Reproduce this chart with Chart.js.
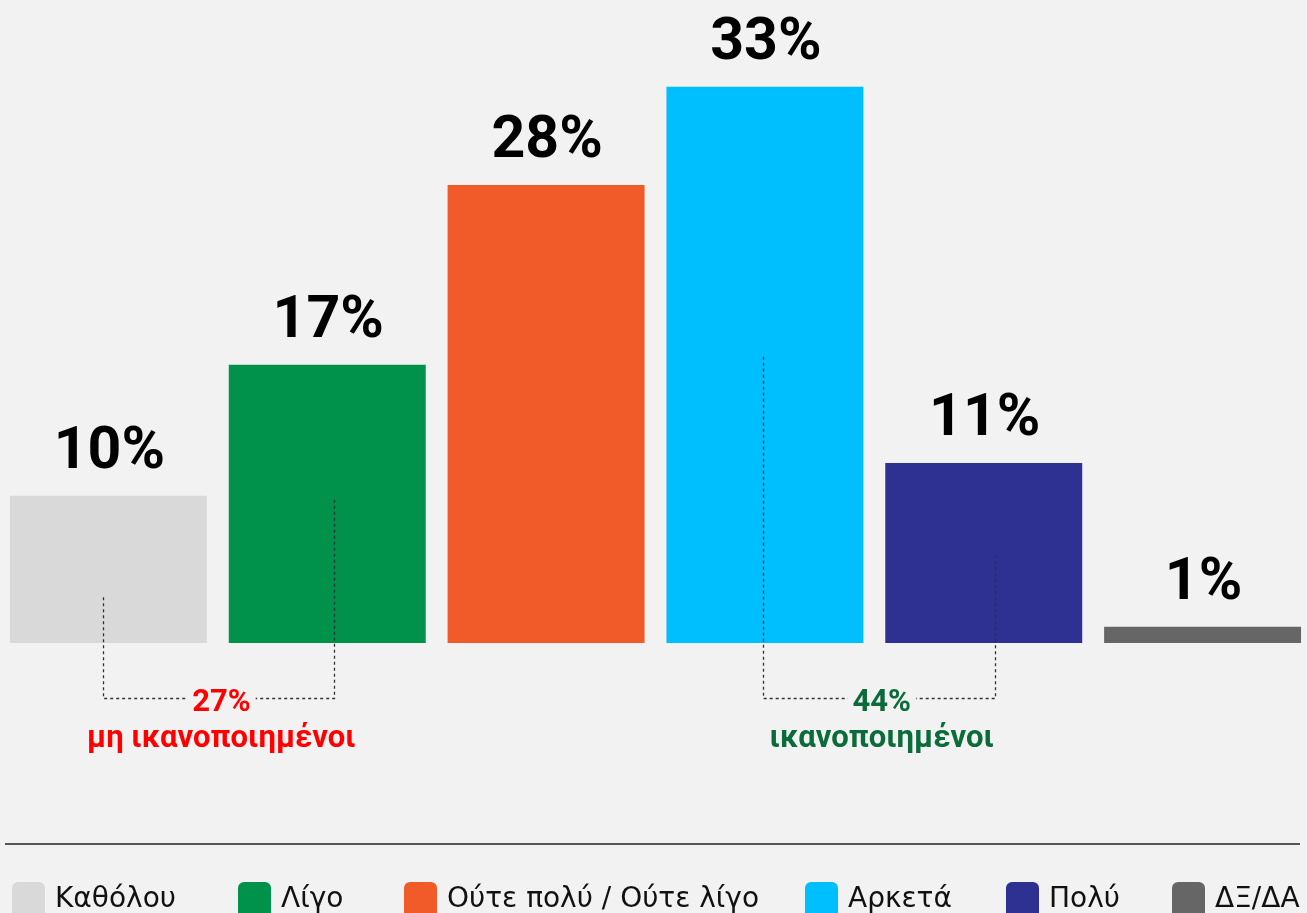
<!DOCTYPE html>
<html>
<head>
<meta charset="utf-8">
<script src="https://cdn.jsdelivr.net/npm/chart.js@4/dist/chart.umd.min.js"></script>
<style>
  html, body { margin: 0; padding: 0; background: #f2f2f2; overflow: hidden; }
  #wrap { position: relative; width: 1313px; height: 913px; margin-left: -1px; }
  canvas { display: block; }
</style>
</head>
<body>
<div id="wrap"><canvas id="chart" width="1313" height="913"></canvas></div>
<script>
// categories + values
const categories = ['Καθόλου', 'Λίγο', 'Ούτε πολύ / Ούτε λίγο', 'Αρκετά', 'Πολύ', 'ΔΞ/ΔΑ'];
const barValues = [9, 17, 28, 34, 11, 1];          // bar heights as drawn
const valueLabels = ['10%', '17%', '28%', '33%', '11%', '1%']; // printed above bars
const barColors = ['#d9d9d9', '#00914a', '#f15a29', '#00bfff', '#2e3192', '#666666'];

// grouped totals under the bars
const groupTotals = ['27%', '44%'];
const groupNames = ['μη ικανοποιημένοι', 'ικανοποιημένοι'];
const groupColors = ['#ff0000', '#0b6b3a'];

// bracket ends: [category index, value where the dotted line starts]
const groupBrackets = [
  [[-0.025, 2.8], [1.03, 8.9]],
  [[2.99, 17.5], [4.05, 5.5]]
];

const bgColor = '#f2f2f2';

const labelsPlugin = {
  id: 'labelsPlugin',
  afterDatasetsDraw(chart) {
    const ctx = chart.ctx;
    const meta = chart.getDatasetMeta(0);
    ctx.save();
    ctx.fillStyle = '#000';
    ctx.font = 'bold 59px Roboto';
    ctx.textAlign = 'center';
    ctx.textBaseline = 'alphabetic';
    meta.data.forEach(function (bar, i) {
      ctx.fillText(valueLabels[i], bar.x + 1, bar.y - 28);
    });
    ctx.restore();
  }
};

const bracketPlugin = {
  id: 'bracketPlugin',
  afterDatasetsDraw(chart) {
    const ctx = chart.ctx;
    const xs = chart.scales.x;
    const ys = chart.scales.y;
    const bottomY = ys.getPixelForValue(-3.36);
    groupBrackets.forEach(function (br, g) {
      const x1 = xs.getPixelForValue(br[0][0]);
      const x2 = xs.getPixelForValue(br[1][0]);
      const y1 = ys.getPixelForValue(br[0][1]);
      const y2 = ys.getPixelForValue(br[1][1]);
      ctx.save();
      ctx.strokeStyle = '#333';
      ctx.lineWidth = 1.3;
      ctx.setLineDash([3, 3]);
      ctx.beginPath();
      ctx.moveTo(Math.round(x1) + 0.5, y1);
      ctx.lineTo(Math.round(x1) + 0.5, Math.round(bottomY) + 0.5);
      ctx.lineTo(Math.round(x2) + 0.5, Math.round(bottomY) + 0.5);
      ctx.lineTo(Math.round(x2) + 0.5, y2);
      ctx.stroke();
      ctx.setLineDash([]);

      const cx = (x1 + x2) / 2 + 3;
      ctx.font = 'bold 31px Roboto';
      const w = ctx.measureText(groupTotals[g]).width;
      ctx.fillStyle = bgColor;
      ctx.fillRect(cx - w / 2 - 5, bottomY - 5, w + 10, 10);
      ctx.fillStyle = groupColors[g];
      ctx.textAlign = 'center';
      ctx.textBaseline = 'alphabetic';
      ctx.fillText(groupTotals[g], cx, bottomY + 13);
      ctx.font = 'bold 31px Roboto';
      ctx.fillText(groupNames[g], cx, bottomY + 49);
      ctx.restore();
    });
  }
};

const legendPlugin = {
  id: 'legendPlugin',
  afterDraw(chart) {
    const ctx = chart.ctx;
    const boxX = [13, 239, 405, 806, 1007, 1173];
    ctx.save();
    // rule above the legend
    ctx.strokeStyle = '#555';
    ctx.lineWidth = 2;
    ctx.beginPath();
    ctx.moveTo(6, 844);
    ctx.lineTo(1301, 844);
    ctx.stroke();

    ctx.font = '28px "DejaVu Sans"';
    ctx.textBaseline = 'alphabetic';
    ctx.textAlign = 'left';
    categories.forEach(function (name, i) {
      ctx.fillStyle = barColors[i];
      ctx.beginPath();
      ctx.roundRect(boxX[i], 882, 33, 40, 6);
      ctx.fill();
      ctx.fillStyle = '#111';
      ctx.fillText(name, boxX[i] + 43, 907);
    });
    ctx.restore();
  }
};

const ctx = document.getElementById('chart').getContext('2d');
const chart = new Chart(ctx, {
  type: 'bar',
  data: {
    labels: categories,
    datasets: [{
      data: barValues,
      backgroundColor: barColors,
      borderWidth: 0,
      barPercentage: 0.9,
      categoryPercentage: 1
    }]
  },
  options: {
    responsive: false,
    animation: false,
    layout: { padding: { top: 0, bottom: 270, left: 0, right: 0 } },
    plugins: {
      legend: { display: false },
      tooltip: { enabled: false }
    },
    scales: {
      x: { display: false },
      y: { display: false, min: 0, max: 39.3 }
    }
  },
  plugins: [labelsPlugin, bracketPlugin, legendPlugin]
});
</script>
</body>
</html>
